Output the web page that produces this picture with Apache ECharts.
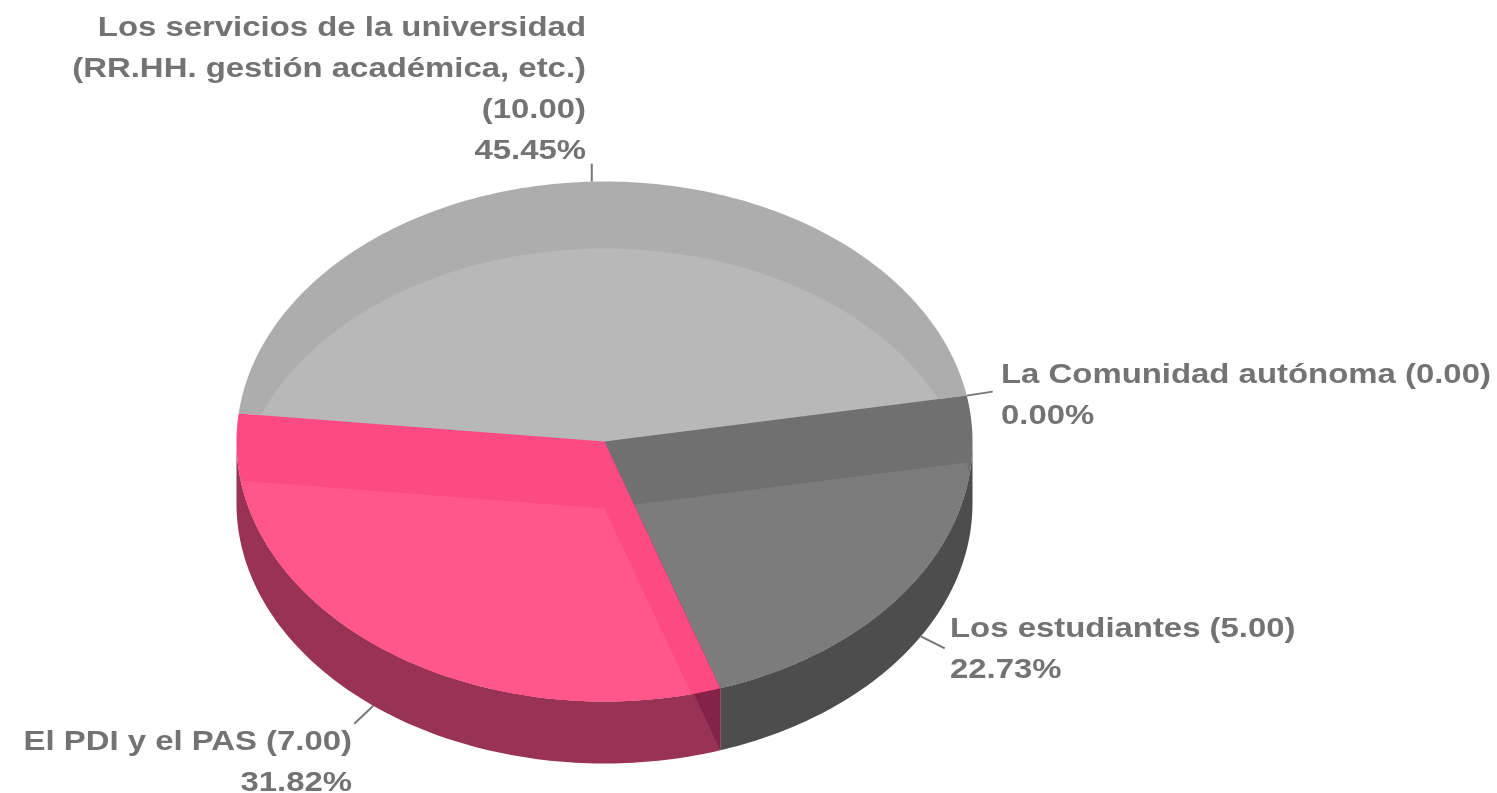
<!DOCTYPE html>
<html>
<head>
<meta charset="utf-8">
<style>
    html, body { margin: 0; padding: 0; background: #fff; }
    /* la referencia es una imagen reescalada, bordes algo blandos */
    #pieChart { width: 1497px; height: 793px; filter: blur(0.6px); }
</style>
<script src="https://cdn.jsdelivr.net/npm/echarts@6/dist/echarts.min.js"></script>
</head>
<body>
<div id="pieChart"></div>
<script>
    // valores
    const sliceNames = [
        'Los servicios de la universidad\n(RR.HH. gestión académica, etc.)',
        'La Comunidad autónoma',
        'Los estudiantes',
        'El PDI y el PAS'
    ]
    const sliceValues = [10, 0, 5, 7]

    // colores: cara exterior, cara interior, pared
    const bandColors = ['#adadad', '#707070', '#707070', '#fb4a84']
    const faceColors = ['#b8b8b8', '#7c7c7c', '#7c7c7c', '#ff568c']
    const wallColors = ['#808080', '#4d4d4d', '#4d4d4d', '#993355']
    const radialWallColor = '#852247'

    const startAngle = 186.2 // grados, sentido horario desde +x
    const depth = 62
    const bandShift = 67
    const center = { x: 604.5, y: 441.5, rx: 368, ry: 260 }
    const textScaleX = 1.175

    // donde acaba cada guia y como se ancla su texto
    const labelConfig = [
        { dx: 0, dy: -18, tx: 586, ty: 8, align: 'right' },
        { dx: 26, dy: -4, tx: 1001, ty: 355, align: 'left' },
        { dx: 24, dy: 12, tx: 950, ty: 609, align: 'left' },
        { dx: -19, dy: 18, tx: 352, ty: 722, align: 'right' }
    ]

    const total = sliceValues.reduce((a, b) => a + b, 0)
    const sliceRows = []
    let acc = startAngle
    sliceValues.forEach((v, i) => {
        const sweep = v / total * 360
        sliceRows.push([i, acc, acc + sweep, v])
        acc += sweep
    })

    function unit(t) {
        const r = t * Math.PI / 180
        return [Math.cos(r), Math.sin(r)]
    }

    function arc(api, a0, a1, shift) {
        const pts = []
        const n = Math.max(2, Math.ceil(Math.abs(a1 - a0)))
        for (let k = 0; k <= n; k++) {
            const p = api.coord(unit(a0 + (a1 - a0) * k / n))
            pts.push([p[0], p[1] + shift])
        }
        return pts
    }

    function wedge(api, a0, a1, shift) {
        const c = api.coord([0, 0])
        return [[c[0], c[1] + shift]].concat(arc(api, a0, a1, shift))
    }

    function poly(points, color, extra) {
        return Object.assign({
            type: 'polygon',
            shape: { points },
            style: { fill: color, stroke: null }
        }, extra || {})
    }

    // parte visible de la pared: solo la mitad inferior de la elipse
    function visibleWall(a0, a1) {
        const out = []
        for (let turn = 0; turn < 2; turn++) {
            const lo = Math.max(a0, turn * 360)
            const hi = Math.min(a1, 180 + turn * 360)
            if (hi > lo) out.push([lo, hi])
        }
        return out
    }

    function renderSlice(params, api) {
        const i = api.value(0)
        const a0 = api.value(1)
        const a1 = api.value(2)
        const children = []

        visibleWall(a0, a1).forEach(seg => {
            const top = arc(api, seg[0], seg[1], 0)
            const bot = arc(api, seg[0], seg[1], depth).reverse()
            children.push(poly(top.concat(bot), wallColors[i]))
        })

        if (a1 > a0) {
            // pared radial de la porcion que acaba en el frente
            if (i === 3) {
                const c = api.coord([0, 0])
                const e = api.coord(unit(a0))
                children.push(poly([c, e, [e[0], e[1] + depth], [c[0], c[1] + depth]], radialWallColor))
            }
            children.push(poly(wedge(api, a0, a1, 0), bandColors[i]))
            // cara clara: la porcion desplazada, recortada por la elipse
            children.push(poly(wedge(api, a0, a1, bandShift), faceColors[i], {
                clipPath: { type: 'polygon', shape: { points: arc(api, 0, 360, 0) } }
            }))
        }
        return { type: 'group', children }
    }

    function renderLabel(params, api) {
        const i = api.value(0)
        const mid = (api.value(1) + api.value(2)) / 2
        const cfg = labelConfig[i]
        const u = unit(mid)
        const p = api.coord(u)
        const y0 = p[1] + (u[1] > 0 ? depth : 0)
        const pct = (sliceValues[i] / total * 100).toFixed(2) + '%'
        const valueTxt = '(' + sliceValues[i].toFixed(2) + ')'
        const joiner = i === 0 ? '\n' : ' '
        return {
            type: 'group',
            children: [
                {
                    type: 'line',
                    shape: { x1: p[0], y1: y0, x2: p[0] + cfg.dx, y2: y0 + cfg.dy },
                    style: { stroke: '#777777', lineWidth: 2 }
                },
                {
                    type: 'text',
                    x: cfg.tx,
                    y: cfg.ty,
                    originX: 0,
                    originY: 0,
                    scaleX: textScaleX,
                    style: {
                        text: sliceNames[i] + joiner + valueTxt + '\n' + pct,
                        font: 'bold 28px "Liberation Sans"',
                        lineHeight: 41,
                        fill: '#737373',
                        align: cfg.align,
                        verticalAlign: 'top'
                    }
                }
            ]
        }
    }

    let myChart = echarts.init(document.getElementById('pieChart'), null, { renderer: 'canvas' })
    myChart.setOption({
        animation: false,
        backgroundColor: '#ffffff',
        grid: {
            left: center.x - center.rx,
            top: center.y - center.ry,
            width: center.rx * 2,
            height: center.ry * 2
        },
        xAxis: { type: 'value', min: -1, max: 1, show: false },
        yAxis: { type: 'value', min: -1, max: 1, inverse: true, show: false },
        series: [
            {
                type: 'custom',
                clip: false,
                renderItem: renderSlice,
                encode: { x: 1, y: 1 },
                data: sliceRows,
                silent: true
            },
            {
                type: 'custom',
                clip: false,
                renderItem: renderLabel,
                encode: { x: 1, y: 1 },
                data: sliceRows,
                silent: true,
                z: 3
            }
        ]
    })
</script>
</body>
</html>
